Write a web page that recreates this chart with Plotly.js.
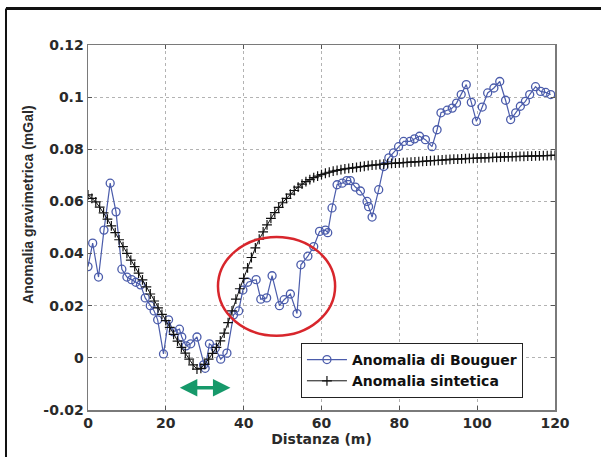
<!DOCTYPE html>
<html>
<head>
<meta charset="utf-8">
<script src="https://cdn.plot.ly/plotly-3.0.1.min.js"></script>
<style>html,body{margin:0;padding:0;background:#fff;}#chart{width:601px;height:457px;}</style>
</head>
<body>
<div id="chart"></div>
<script>
// Anomalia di Bouguer (measured)
const bouguerX = [0,1.2,2.7,4.1,5.7,7.2,8.7,10,11.2,12.3,13.5,14.7,16,17,17.9,19.4,20.7,21.9,23.5,24.1,25.2,26.4,28,29.7,30.1,31.2,32.7,34.1,35.7,37.4,38.7,39.8,41,43.2,44.4,45.9,47.3,49.2,50.4,52,53.7,54.7,56.5,58,59.5,61,61.6,62.7,64,65.3,66.5,67.4,68.7,70,71.7,72.1,73,74.7,76,77.3,78.5,79.8,81.1,82.7,83.9,85.2,86.7,88.4,89.7,90.7,92.3,93.6,94.7,95.9,97.2,98.5,99.8,101.3,102.7,104.3,105.8,107.3,108.6,109.9,111.1,112.4,113.5,115,116.3,117.6,118.9];
const bouguerY = [0.035,0.044,0.031,0.049,0.067,0.056,0.034,0.031,0.030,0.029,0.028,0.023,0.020,0.018,0.0146,0.0015,0.0146,0.010,0.011,0.008,0.0046,0.0054,0.008,-0.0027,-0.004,0.0054,0.0037,-0.0005,0.0018,0.0165,0.018,0.026,0.029,0.030,0.0225,0.023,0.0315,0.020,0.0223,0.0245,0.017,0.0357,0.039,0.0427,0.0485,0.049,0.048,0.0575,0.0664,0.067,0.068,0.068,0.0655,0.064,0.060,0.058,0.054,0.0645,0.0734,0.0767,0.0786,0.081,0.083,0.083,0.084,0.085,0.0837,0.081,0.0875,0.094,0.095,0.0958,0.0977,0.101,0.1048,0.098,0.0907,0.0962,0.1016,0.1035,0.106,0.0988,0.0914,0.094,0.0965,0.0984,0.101,0.104,0.1022,0.1018,0.101];

// Anomalia sintetica (model), 1 m spacing
const sintX = [0,1,2,3,4,5,6,7,8,9,10,11,12,13,14,15,16,17,18,19,20,21,22,23,24,25,26,27,28,29,30,31,32,33,34,35,36,37,38,39,40,41,42,43,44,45,46,47,48,49,50,51,52,53,54,55,56,57,58,59,60,61,62,63,64,65,66,67,68,69,70,71,72,73,74,75,76,77,78,79,80,81,82,83,84,85,86,87,88,89,90,91,92,93,94,95,96,97,98,99,100,101,102,103,104,105,106,107,108,109,110,111,112,113,114,115,116,117,118,119,120];
const sintY = [0.0625,0.0612,0.0598,0.0578,0.0556,0.0532,0.0506,0.0480,0.0453,0.0427,0.0401,0.0375,0.0350,0.0325,0.0299,0.0272,0.0245,0.0218,0.0192,0.0167,0.0143,0.0117,0.0090,0.0064,0.0040,0.0018,-0.0005,-0.0027,-0.0043,-0.0040,-0.0025,-0.0005,0.0017,0.0040,0.0065,0.0095,0.0135,0.0180,0.0225,0.0265,0.0305,0.0345,0.0385,0.0422,0.0455,0.0483,0.0510,0.0535,0.0557,0.0577,0.0595,0.0612,0.0628,0.0642,0.0655,0.0666,0.0676,0.0684,0.0691,0.0697,0.0703,0.0708,0.0712,0.0716,0.0719,0.0722,0.0725,0.0727,0.0729,0.0731,0.0733,0.0735,0.0737,0.0739,0.0740,0.0742,0.0743,0.0745,0.0746,0.0747,0.0748,0.0749,0.0750,0.0751,0.0752,0.0753,0.0754,0.0755,0.0756,0.0757,0.0758,0.0759,0.0760,0.0761,0.0762,0.0762,0.0763,0.0764,0.0765,0.0765,0.0766,0.0767,0.0767,0.0768,0.0769,0.0769,0.0770,0.0771,0.0771,0.0772,0.0772,0.0773,0.0773,0.0774,0.0774,0.0775,0.0775,0.0776,0.0776,0.0777,0.0777];

const xTicks = [0,20,40,60,80,100,120];
const yTicks = [-0.02,0,0.02,0.04,0.06,0.08,0.1,0.12];
const yTickLabels = ['-0.02','0','0.02','0.04','0.06','0.08','0.1','0.12'];

// annotation regions (data coords)
const ellipseX = [33.4, 63.5];
const ellipseY = [0.0085, 0.0464];
const arrowX = [23.2, 36.6];
const arrowY = -0.0115;

const wideFont = 'DejaVu Sans, Verdana, sans-serif';
const tickFont = {family: wideFont, size: 14, color: '#2a2a2a', weight: 'bold'};

const traces = [
  {
    x: bouguerX, y: bouguerY, type: 'scatter', mode: 'lines+markers',
    name: 'Anomalia di Bouguer',
    line: {color: '#4b5cab', width: 1.2},
    marker: {symbol: 'circle-open', size: 8, color: '#4b5cab', line: {width: 1.3, color: '#4b5cab'}}
  },
  {
    x: sintX, y: sintY, type: 'scatter', mode: 'lines+markers',
    name: 'Anomalia sintetica',
    line: {color: '#111', width: 1},
    marker: {symbol: 'cross-thin-open', size: 7, color: '#111', line: {width: 1.2, color: '#111'}}
  }
];

const axisCommon = {
  showline: true, linecolor: '#7a7a7a', linewidth: 1.5, mirror: 'ticks',
  ticks: 'inside', ticklen: 4, tickcolor: '#555', tickwidth: 1,
  showgrid: true, gridcolor: '#b3b3b3', griddash: 'dot', gridwidth: 1,
  zeroline: false, tickfont: tickFont
};

const layout = {
  width: 601, height: 457,
  margin: {l: 88, r: 46, t: 45, b: 47},
  paper_bgcolor: '#fff', plot_bgcolor: '#fff',
  showlegend: true,
  xaxis: Object.assign({}, axisCommon, {
    range: [0, 120], tickvals: xTicks, ticktext: xTicks.map(String),
    title: {text: 'Distanza (m)', font: {family: wideFont, size: 14, color: '#2a2a2a', weight: 'bold'}, standoff: 3}
  }),
  yaxis: Object.assign({}, axisCommon, {
    range: [-0.02, 0.12], tickvals: yTicks, ticktext: yTickLabels
  }),
  legend: {
    x: 0.456, y: 0.1836, xanchor: 'left', yanchor: 'top',
    bgcolor: '#fff', bordercolor: '#222', borderwidth: 1,
    font: {family: wideFont, size: 14, color: '#111', weight: 'bold'},
    tracegroupgap: 0, itemwidth: 40
  },
  shapes: [
    {type: 'circle', xref: 'x', yref: 'y', x0: ellipseX[0], x1: ellipseX[1], y0: ellipseY[0], y1: ellipseY[1],
     line: {color: '#d8262c', width: 2.5}},
    {type: 'line', xref: 'paper', yref: 'paper', x0: -0.1756, x1: 1.1, y0: 1.1, y1: 1.1,
     line: {color: '#111', width: 3}},
    {type: 'line', xref: 'paper', yref: 'paper', x0: -0.1756, x1: -0.1756, y0: 1.1, y1: -0.14,
     line: {color: '#111', width: 2}}
  ],
  annotations: [
    {x: arrowX[1], y: arrowY, ax: arrowX[0], ay: arrowY, xref: 'x', yref: 'y', axref: 'x', ayref: 'y',
     text: '', showarrow: true, arrowside: 'end+start', arrowhead: 2, startarrowhead: 2,
     arrowsize: 1, startarrowsize: 1, arrowwidth: 3.5, arrowcolor: '#16996a'},
    {text: 'Anomalia gravimetrica (mGal)', xref: 'paper', yref: 'paper', x: -0.1285, y: 0.562,
     xanchor: 'center', yanchor: 'middle', textangle: -90, showarrow: false,
     font: {family: 'Liberation Sans, Arial, sans-serif', size: 14, color: '#2a2a2a', weight: 'bold'}}
  ]
};

Plotly.newPlot('chart', traces, layout, {displayModeBar: false, staticPlot: true});
</script>
</body>
</html>
